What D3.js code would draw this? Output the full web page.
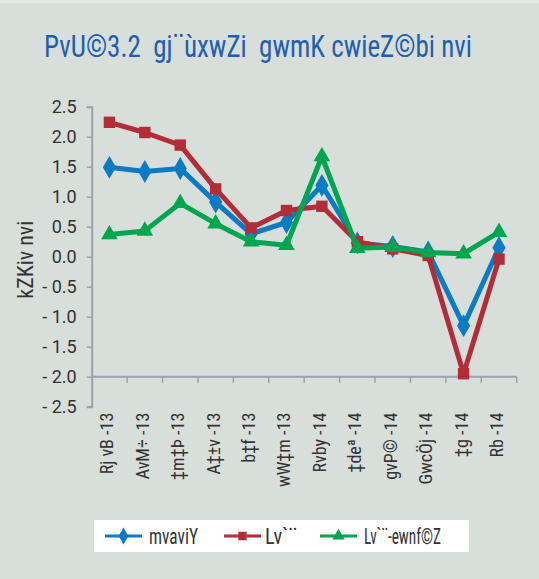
<!DOCTYPE html>
<html>
<head>
<meta charset="utf-8">
<script src="https://cdn.jsdelivr.net/npm/d3@7"></script>
<style>
  body { margin: 0; background: #d8deda; }
  svg { display: block; }
</style>
</head>
<body>
<div id="chart"></div>
<script>
'use strict'

// data
const months = ['Rj vB -13', 'AvM÷ -13', '‡m‡Þ -13', 'A‡±v -13', 'b‡f -13', 'wW‡m -13',
    'Rvby -14', '‡deª -14', 'gvP© -14', 'GwcÖj -14', '‡g -14', 'Rb -14']
const general = [1.49, 1.42, 1.47, 0.91, 0.38, 0.57, 1.19, 0.23, 0.17, 0.08, -1.15, 0.15]
const food = [2.24, 2.07, 1.86, 1.13, 0.48, 0.77, 0.84, 0.25, 0.13, 0.02, -1.95, -0.04]
const nonFood = [0.37, 0.43, 0.89, 0.55, 0.25, 0.19, 1.67, 0.14, 0.16, 0.07, 0.05, 0.41]
const yTicks = [2.5, 2.0, 1.5, 1.0, 0.5, 0.0, -0.5, -1.0, -1.5, -2.0, -2.5]
const seriesNames = ['mvaviY', 'Lv`¨', 'Lv`¨-ewnf©Z']

const titleText = 'PvU©3.2  gj¨ùxwZi  gwmK cwieZ©bi nvi'
const yLabel = 'kZKiv nvi'

const svgWidth = 539
const svgHeight = 579
const plot = { left: 91.7, right: 516.7, top: 106.7, bottom: 406.7 }
const narrow = '"Liberation Sans Narrow", "Arial Narrow", "Roboto Condensed", sans-serif'

const svg = d3.select('#chart')
    .append('svg')
    .attr('width', svgWidth)
    .attr('height', svgHeight)

svg.append('rect')
    .attr('width', svgWidth)
    .attr('height', svgHeight)
    .attr('fill', '#d8deda')

svg.append('rect')
    .attr('width', svgWidth)
    .attr('height', 3)
    .attr('fill', '#e4e9e6')

// title
svg.append('text')
    .attr('x', 44)
    .attr('y', 57)
    .attr('fill', '#1f5fae')
    .attr('textLength', 428)
    .attr('lengthAdjust', 'spacingAndGlyphs')
    .style('font-family', narrow)
    .style('font-size', '31px')
    .style('white-space', 'pre')
    .text(titleText)

// scales
const x = d3.scaleBand()
    .domain(months)
    .range([plot.left, plot.right])

const y = d3.scaleLinear()
    .domain([-2.5, 2.5])
    .range([plot.bottom, plot.top])

const axisColor = '#9aa3ad'
const fmt = d => d < 0 ? '- ' + d3.format('.1f')(-d) : d3.format('.1f')(d)

// y axis
const yAxis = svg.append('g')
    .attr('transform', `translate(${plot.left},0)`)
    .call(d3.axisLeft(y).tickValues(yTicks).tickSize(5).tickSizeOuter(5).tickPadding(10).tickFormat(fmt))
yAxis.select('.domain').attr('stroke', axisColor).attr('stroke-width', 2)
yAxis.selectAll('.tick line').attr('stroke', axisColor).attr('stroke-width', 1.5)
yAxis.selectAll('.tick text')
    .attr('fill', '#333')
    .style('font-family', 'Roboto, "Liberation Sans", sans-serif')
    .style('font-size', '18px')
    .style('white-space', 'pre')

// x axis sits at -2.0
const xAxis = svg.append('g')
    .attr('transform', `translate(0,${y(-2.0)})`)
xAxis.append('line')
    .attr('x1', plot.left)
    .attr('x2', plot.right)
    .attr('stroke', axisColor)
    .attr('stroke-width', 2)
const bounds = months.map(m => x(m)).concat([plot.right])
xAxis.selectAll('.xtick')
    .data(bounds.slice(1))
    .join('line')
    .attr('class', 'xtick')
    .attr('x1', d => d)
    .attr('x2', d => d)
    .attr('y1', 0)
    .attr('y2', 6)
    .attr('stroke', axisColor)
    .attr('stroke-width', 1.5)

svg.append('g')
    .selectAll('text')
    .data(months)
    .join('text')
    .attr('transform', d => `translate(${x(d) + x.bandwidth() / 2 + 4},${plot.bottom + 6}) rotate(-90)`)
    .attr('text-anchor', 'end')
    .attr('fill', '#333')
    .style('font-family', narrow)
    .style('font-size', '18px')
    .style('white-space', 'pre')
    .text(d => d)

// y label
svg.append('text')
    .attr('transform', `translate(33,${y(0) + 3}) rotate(-90)`)
    .attr('text-anchor', 'middle')
    .attr('fill', '#333')
    .style('font-family', narrow)
    .style('font-size', '22px')
    .text(yLabel)

// series
const series = [
    { name: seriesNames[0], values: general, color: '#0a7bc4', shape: d3.symbolDiamond, size: 150 },
    { name: seriesNames[1], values: food, color: '#b32d39', shape: d3.symbolSquare, size: 130 },
    { name: seriesNames[2], values: nonFood, color: '#00a550', shape: d3.symbolTriangle, size: 120 }
]

const line = d3.line()
    .x((d, i) => x(months[i]) + x.bandwidth() / 2)
    .y(d => y(d))

series.forEach(s => {
    const g = svg.append('g')
    g.append('path')
        .datum(s.values)
        .attr('d', line)
        .attr('fill', 'none')
        .attr('stroke', s.color)
        .attr('stroke-width', 5)
        .attr('stroke-linejoin', 'round')
    g.selectAll('path.mark')
        .data(s.values)
        .join('path')
        .attr('class', 'mark')
        .attr('transform', (d, i) => `translate(${x(months[i]) + x.bandwidth() / 2},${y(d)})`)
        .attr('d', d3.symbol().type(s.shape).size(s.size))
        .attr('fill', s.color)
})

// legend
const legend = svg.append('g')
legend.append('rect')
    .attr('x', 94)
    .attr('y', 520)
    .attr('width', 375)
    .attr('height', 32)
    .attr('fill', '#fff')

const legendX = [105, 224, 320]
const legendTextX = [44, 41, 44]
const legendTextW = [49, 32, 77]
series.forEach((s, i) => {
    const lg = legend.append('g').attr('transform', `translate(${legendX[i]},536)`)
    lg.append('line')
        .attr('x1', 0)
        .attr('x2', 37)
        .attr('stroke', s.color)
        .attr('stroke-width', 3)
    lg.append('path')
        .attr('transform', 'translate(18.5,0)')
        .attr('d', d3.symbol().type(s.shape).size(s.size * 0.55))
        .attr('fill', s.color)
    lg.append('text')
        .attr('x', legendTextX[i])
        .attr('y', 8)
        .attr('fill', '#333')
        .attr('textLength', legendTextW[i])
        .attr('lengthAdjust', 'spacingAndGlyphs')
        .style('font-family', narrow)
        .style('font-size', '22px')
        .text(s.name)
})
</script>
</body>
</html>
